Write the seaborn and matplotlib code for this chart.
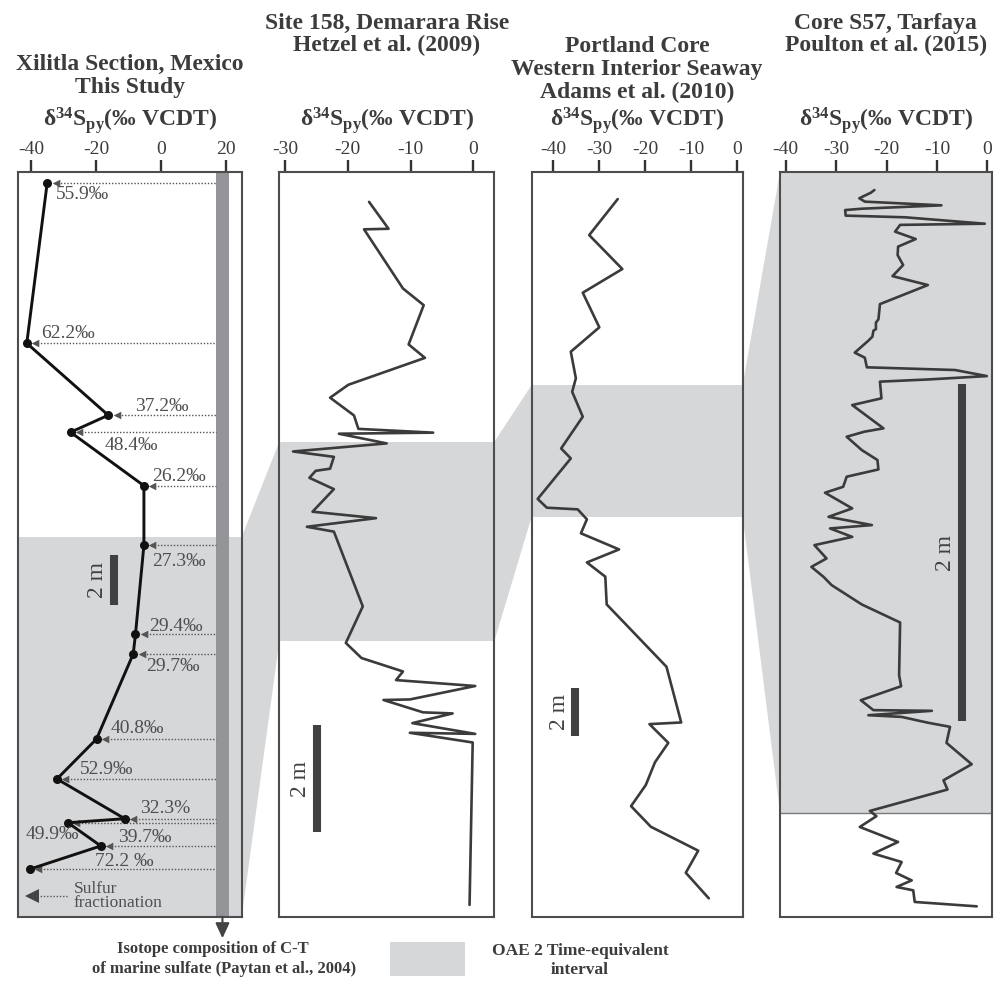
import matplotlib
matplotlib.use("Agg")
import matplotlib.pyplot as plt
from matplotlib.patches import Polygon, Rectangle
import numpy as np
import seaborn as sns

# ---------------- Xilitla Section, Mexico (this study) ----------------
xil_depth = [0.43, 6.85, 9.73, 10.41, 12.55, 14.92, 18.49, 19.28,
             22.68, 24.28, 25.87, 26.03, 26.96, 27.89]
xil_d34s = [-35.0, -41.3, -16.2, -27.8, -5.2, -5.2, -7.8, -8.5,
            -19.8, -32.0, -11.1, -28.6, -18.5, -40.4]
xil_frac = ["55.9‰", "62.2‰", "37.2‰", "48.4‰", "26.2‰", "27.3‰", "29.4‰",
            "29.7‰", "40.8‰", "52.9‰", "32.3%", "49.9‰", "39.7‰", "72.2 ‰"]
xil_oae_top = 14.6
sulfate_range = (17.0, 21.0)     # C-T marine sulfate (Paytan et al., 2004)

# ---------------- Site 158, Demerara Rise (Hetzel et al., 2009) ----------------
dem_d34s = [-16.6, -13.5, -17.4, -11.2, -7.9, -10.3, -7.7, -19.9, -22.8, -19.0,
            -18.3, -6.4, -21.4, -13.8, -28.7, -22.2, -22.8, -25.1, -26.1, -22.2,
            -25.6, -15.5, -26.5, -22.2, -17.6, -20.3, -17.8, -11.2, -12.3, 0.3,
            -10.1, -14.3, -8.0, -3.3, -9.7, 0.3, -10.1, -0.1, -0.6]
dem_depth = [0.55, 1.05, 1.06, 2.16, 2.47, 3.20, 3.45, 3.95, 4.19, 4.52,
             4.77, 4.84, 4.86, 5.04, 5.19, 5.29, 5.51, 5.55, 5.68, 5.89,
             6.31, 6.43, 6.59, 6.68, 8.07, 8.75, 9.03, 9.28, 9.44, 9.55,
             9.80, 9.81, 10.04, 10.06, 10.24, 10.44, 10.42, 10.60, 13.62]
dem_oae = (5.01, 8.72)

# ---------------- Portland Core, WIS (Adams et al., 2010) ----------------
port_d34s = [-26.0, -32.2, -25.0, -33.6, -30.0, -36.2, -35.1, -35.9, -33.6, -38.3,
             -36.2, -43.4, -41.4, -34.7, -32.7, -34.0, -25.7, -32.7, -28.7, -28.4,
             -15.4, -12.2, -19.1, -15.0, -17.9, -19.9, -23.1, -18.8, -8.5, -11.2, -6.2]
port_depth = [1.13, 2.65, 4.08, 5.08, 6.54, 7.57, 8.69, 9.26, 10.31, 11.65,
              12.07, 13.78, 14.15, 14.22, 14.64, 15.23, 15.91, 16.46, 17.06, 18.23,
              20.86, 23.21, 23.28, 24.07, 24.89, 25.85, 26.74, 27.61, 28.62, 29.55, 30.63]
port_oae = (8.97, 14.53)

# ---------------- Core S57, Tarfaya (Poulton et al., 2015) ----------------
tar_d34s = [-22.4, -23.1, -25.4, -24.3, -9.1, -24.9, -28.2, -28.1, -16.3, -0.5,
            -17.3, -18.3, -14.2, -17.7, -17.8, -16.7, -18.8, -11.8, -21.3, -21.6,
            -22.1, -22.1, -22.6, -22.8, -23.6, -26.3, -24.3, -23.9, -6.4, -0.1,
            -11.7, -21.3, -21.0, -26.8, -20.6, -24.4, -27.9, -24.9, -21.8, -21.6,
            -27.9, -28.6, -32.2, -26.8, -31.5, -22.9, -31.2, -26.8, -34.3, -31.9,
            -34.9, -32.5, -30.9, -24.9, -17.3, -17.5, -17.1, -25.1, -22.6, -11.0,
            -23.6, -17.0, -14.0, -11.7, -7.4, -8.1, -3.1, -8.7, -7.9, -23.3,
            -22.0, -25.3, -17.7, -22.6, -17.0, -18.1, -15.0, -18.0, -14.7, -14.4, -2.1]
tar_depth = [0.105, 0.121, 0.154, 0.174, 0.196, 0.216, 0.224, 0.257, 0.267, 0.305,
             0.312, 0.352, 0.396, 0.441, 0.491, 0.550, 0.616, 0.669, 0.782, 0.872,
             0.892, 0.930, 0.940, 0.975, 0.999, 1.070, 1.100, 1.157, 1.173, 1.209,
             1.229, 1.242, 1.341, 1.381, 1.519, 1.539, 1.569, 1.648, 1.707, 1.763,
             1.806, 1.866, 1.901, 1.994, 2.044, 2.093, 2.113, 2.163, 2.212, 2.291,
             2.341, 2.400, 2.449, 2.564, 2.671, 2.983, 3.049, 3.132, 3.191, 3.195,
             3.221, 3.231, 3.251, 3.266, 3.290, 3.385, 3.512, 3.607, 3.662, 3.789,
             3.820, 3.884, 3.973, 4.042, 4.092, 4.157, 4.201, 4.240, 4.260, 4.329, 4.355]
tar_oae = (0.0, 3.80)

# panel headers
titles = [["Xilitla Section, Mexico", "This Study"],
          ["Site 158, Demarara Rise", "Hetzel et al. (2009)"],
          ["Portland Core", "Western Interior Seaway", "Adams et al. (2010)"],
          ["Core S57, Tarfaya", "Poulton et al. (2015)"]]
x_ticks = [[-40, -20, 0, 20], [-30, -20, -10, 0],
           [-40, -30, -20, -10, 0], [-40, -30, -20, -10, 0]]
# 2 m scale bars: (x position, top depth)
scale_bars = [(-14.5, 15.32), (-24.9, 10.27), (-35.2, 21.77), (-5.1, 1.256)]

# ---------------- styling ----------------
sns.set_theme(style="white")
plt.rcParams.update({
    "font.family": ["Liberation Serif", "DejaVu Serif"],
    "axes.unicode_minus": False,
    "mathtext.fontset": "custom",
    "mathtext.rm": "Liberation Serif",
    "mathtext.bf": "Liberation Serif:bold",
    "mathtext.it": "Liberation Serif:italic",
})
TEXT = "#3c3c3c"
LINE = "#3b3b3b"
SHADE = "#d6d7d9"
SULF = "#939598"

W, H, DPI = 995, 981, 100
fig = plt.figure(figsize=(W / DPI, H / DPI), dpi=DPI)
fig.patch.set_facecolor("white")

boxes = [(18.3, 241.7, 172.0, 916.7), (279.3, 494.3, 172.3, 917.3),
         (531.7, 742.7, 172.3, 917.3), (780.0, 991.7, 172.3, 917.3)]
xlims = [(-43.91, 24.93), (-30.89, 3.34), (-44.70, 1.17), (-41.13, 0.87)]
ybottoms = [29.79, 13.85, 31.43, 4.42]
title_y = [[64, 88], [23, 45], [46, 69, 92], [23, 45]]

axes = []
for (x0, x1, y0, y1), xl, yb, tk in zip(boxes, xlims, ybottoms, x_ticks):
    ax = fig.add_axes([x0 / W, 1 - y1 / H, (x1 - x0) / W, (y1 - y0) / H])
    ax.set_facecolor("white")
    ax.set_xlim(*xl)
    ax.set_ylim(yb, 0)
    ax.set_xticks(tk)
    ax.set_yticks([])
    ax.xaxis.set_ticks_position("top")
    ax.tick_params(axis="x", direction="out", length=8.6, width=1.7,
                   color="#333333", labelsize=14, labelcolor=TEXT, pad=1.5,
                   top=True, bottom=False, labeltop=True, labelbottom=False)
    for s in ax.spines.values():
        s.set_visible(True)
        s.set_color("#4d4d4d")
        s.set_linewidth(1.5)
    axes.append(ax)
ax1, ax2, ax3, ax4 = axes

# OAE 2 shading in each panel
ax1.axhspan(xil_oae_top, ybottoms[0], color=SHADE, lw=0, zorder=0.5)
ax2.axhspan(*dem_oae, color=SHADE, lw=0, zorder=0.5)
ax3.axhspan(*port_oae, color=SHADE, lw=0, zorder=0.5)
ax4.axhspan(*tar_oae, color=SHADE, lw=0, zorder=0.5)
ax4.axhline(tar_oae[1], color="#7a7a7a", lw=1.0, zorder=0.6)

# marine sulfate band
ax1.axvspan(*sulfate_range, color=SULF, lw=0, zorder=0.7)

# Xilitla: fractionation arrows from the sulfate value to each pyrite value
xs = np.array(xil_d34s)
ax1.hlines(xil_depth, xs + 2.2, sulfate_range[0], colors="#555555",
           linestyles=(0, (1, 1.3)), lw=1.0, zorder=1)
sns.scatterplot(x=xs + 2.6, y=xil_depth, marker="<", s=30, color="#555555",
                linewidth=0, ax=ax1, zorder=2, legend=False)
sns.lineplot(x=xil_d34s, y=xil_depth, sort=False, orient="y", estimator=None,
             color="#111111", lw=2.1, marker="o", markersize=6.5,
             markeredgewidth=0, ax=ax1, zorder=3, legend=False)

label_offsets = [(9, 12), (14, -10), (27, -9), (34, 13), (8, -9), (8, 17),
                 (14, -8), (13, 13), (14, -10), (23, -9), (15, -10), (-42, 12),
                 (17, -8), (65, -8)]
for v, d, lab, (dx, dy) in zip(xil_d34s, xil_depth, xil_frac, label_offsets):
    ax1.annotate(lab, xy=(v, d), xytext=(dx, -dy), textcoords="offset pixels",
                 ha="left", va="center", fontsize=14, color="#4f4f4f", zorder=4)

# legend for the fractionation arrows
ax1.hlines(28.96, -38.0, -28.6, colors="#555555", linestyles=(0, (1, 1.3)), lw=1.0)
ax1.plot([-39.6], [28.96], marker="<", markersize=10, color="#444444", mew=0)
ax1.text(-26.9, 28.96, "Sulfur\nfractionation", ha="left", va="center",
         fontsize=12.5, color="#4f4f4f", linespacing=0.8)

# other sections
for ax, xv, yv in [(ax2, dem_d34s, dem_depth), (ax3, port_d34s, port_depth),
                   (ax4, tar_d34s, tar_depth)]:
    sns.lineplot(x=xv, y=yv, sort=False, orient="y", estimator=None,
                 color=LINE, lw=1.9, ax=ax, legend=False)

# 2 m scale bars
for ax, (bx, btop) in zip(axes, scale_bars):
    ax.plot([bx, bx], [btop, btop + 2.0], color="#404040", lw=5.8,
            solid_capstyle="butt", zorder=2)
    ax.annotate("2 m", xy=(bx, btop + 1.0), xytext=(-16, 0),
                textcoords="offset pixels", rotation=90, ha="center",
                va="center", fontsize=17, color="#404040")

for ax in axes:
    ax.set_xlabel("")
    ax.set_ylabel("")

# correlation wedges between the OAE 2 intervals
to_fig = fig.transFigure.inverted()


def fpt(ax, x, y):
    return to_fig.transform(ax.transData.transform((x, y)))


intervals = [(xil_oae_top, ybottoms[0]), dem_oae, port_oae, tar_oae]
for (axa, ia), (axb, ib) in zip(zip(axes[:-1], intervals[:-1]),
                                zip(axes[1:], intervals[1:])):
    xa = axa.get_xlim()[1]
    xb = axb.get_xlim()[0]
    pts = [fpt(axa, xa, ia[0]), fpt(axb, xb, ib[0]),
           fpt(axb, xb, ib[1]), fpt(axa, xa, ia[1])]
    fig.add_artist(Polygon(pts, closed=True, transform=fig.transFigure,
                           facecolor=SHADE, edgecolor="none", zorder=-1))

# headers
for (x0, x1, _, _), lines, ys in zip(boxes, titles, title_y):
    cx = (x0 + x1) / 2 / W
    for line, y in zip(lines, ys):
        fig.text(cx, 1 - y / H, line, ha="center", va="center", fontsize=17,
                 fontweight="bold", color=TEXT)
    fig.text(cx, 1 - 120 / H, r"$\mathbf{δ^{34}S_{py}}$(‰ VCDT)", ha="center",
             va="center", fontsize=17, fontweight="bold", color=TEXT)

# arrow from sulfate band to its caption
ax1.annotate("", xy=(sum(sulfate_range) / 2, -0.029), xycoords=("data", "axes fraction"),
             xytext=(sum(sulfate_range) / 2, 0.0), textcoords=("data", "axes fraction"),
             arrowprops=dict(arrowstyle="-|>,head_length=0.65,head_width=0.3",
                             color="#444444", lw=1.5, mutation_scale=14,
                             shrinkA=0, shrinkB=0),
             annotation_clip=False)
fig.text(213 / W, 1 - 949 / H, "Isotope composition of C-T", ha="center",
         va="center", fontsize=12, fontweight="bold", color=TEXT)
fig.text(224 / W, 1 - 969 / H, "of marine sulfate (Paytan et al., 2004)",
         ha="center", va="center", fontsize=12, fontweight="bold", color=TEXT)

# OAE 2 legend
fig.add_artist(Rectangle((390 / W, 1 - 976 / H), 75 / W, 34 / H,
                         transform=fig.transFigure, facecolor=SHADE,
                         edgecolor="none"))
fig.text(580 / W, 1 - 951 / H, "OAE 2 Time-equivalent", ha="center",
         va="center", fontsize=12.5, fontweight="bold", color=TEXT)
fig.text(580 / W, 1 - 970 / H, "interval", ha="center", va="center",
         fontsize=12.5, fontweight="bold", color=TEXT)

fig.savefig("out.png", dpi=DPI, facecolor="white")
